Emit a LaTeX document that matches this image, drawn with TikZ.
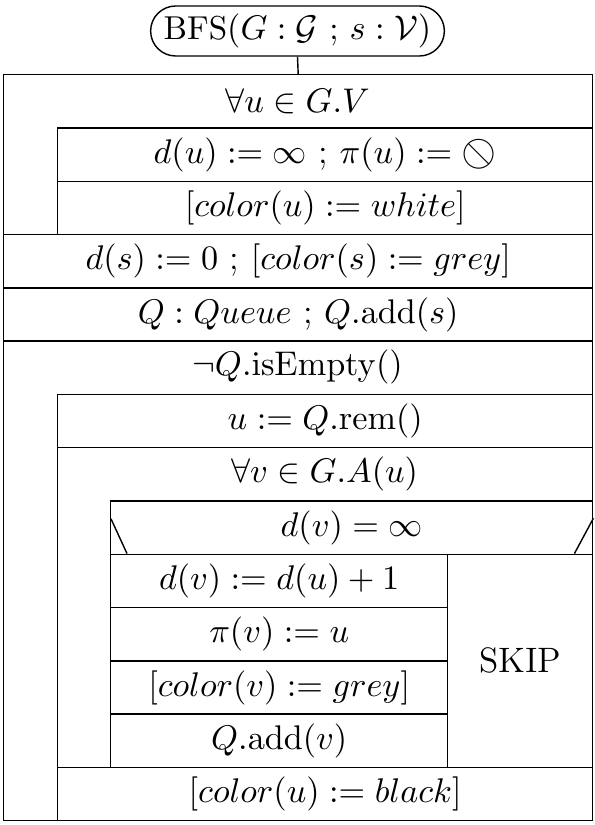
\documentclass[tikz,border=0pt]{standalone}
\usepackage{amsmath}
\usepackage{amssymb}
\usepackage{tikz}

\tikzset{
  row/.style={draw, rectangle, anchor=north west, inner sep=0pt, minimum height=17.05pt},
  frame/.style={draw, rectangle, anchor=north west, inner sep=0pt},
  head/.style={anchor=center, inner sep=0pt},
}
\newcommand{\nilsym}{\vcenter{\hbox{\reflectbox{\fontsize{15}{15}\selectfont$\oslash$}}}}

\begin{document}
\begin{tikzpicture}[x=0.32pt,y=-0.32pt, font=\fontsize{11.3}{14}\selectfont, line width=0.45pt]
				\useasboundingbox (0,0) rectangle (595,825);
				
				% Start
				\node[draw, rounded corners=8pt, inner sep=0pt, minimum width=94pt, minimum height=16pt, font=\fontsize{10.6}{13}\selectfont] (start) at (297.5,31) {BFS$(G : \mathcal{G}$ ; $s : \mathcal{V})$};
				
				% Loop over all u
				\node[frame, minimum width=188.48pt, minimum height=51.17pt] (loopu) at (3,74) {};
				\node[head] (headu) at (297.5,101) {$\forall u \in G.V$};
				\node[row, minimum width=171.2pt] (initd) at (57,127.29) {$d(u) := \infty$ ; $\pi(u) := \nilsym$};
				\node[row, minimum width=171.2pt] (initc) at (57,180.57) {$[color(u) := white]$};
				
				% Start vertex and queue
				\node[row, minimum width=188.48pt] (inits) at (3,233.86) {$d(s) := 0$ ; $[color(s) := grey]$};
				\node[row, minimum width=188.48pt] (initq) at (3,287.14) {$Q : Queue$ ; $Q.\mathrm{add}(s)$};
				
				% While loop
				\node[frame, minimum width=188.48pt, minimum height=153.47pt] (whileq) at (3,340.43) {};
				\node[head] (headq) at (297.5,367) {$\neg Q.\mathrm{isEmpty}()$};
				\node[row, minimum width=171.2pt] (remu) at (57,393.71) {$u := Q.\mathrm{rem}()$};
				
				% Loop over neighbours
				\node[frame, minimum width=171.2pt, minimum height=102.3pt] (forv) at (57,447) {};
				\node[head] (headv) at (324.5,473.6) {$\forall v \in G.A(u)$};
				
				% Branch
				\node[row, minimum width=154.24pt] (ifv) at (110,500.29) {$d(v) = \infty$};
				\draw (ifv.north west) ++(1,18.5) -- ++(16,34.8); % left slant
				\draw (ifv.north east) ++(0,18) -- ++(-19,35.3); % right slant
				\node[row, minimum width=107.84pt] (setd) at (110,553.57) {$d(v) := d(u) + 1$};
				\node[row, minimum width=107.84pt] (setpi) at (110,606.86) {$\pi(v) := u$};
				\node[row, minimum width=107.84pt] (setc) at (110,660.14) {$[color(v) := grey]$};
				\node[row, minimum width=107.84pt] (addv) at (110,713.43) {$Q.\mathrm{add}(v)$};
				\node[row, minimum width=46.4pt, minimum height=68.2pt] (skip) at (447,553.57) {SKIP};
				
				\node[row, minimum width=171.2pt] (blacku) at (57,766.71) {$[color(u) := black]$};
				
				% Connector
				\draw (start.south) -- (loopu.north);
			\end{tikzpicture}
\end{document}
